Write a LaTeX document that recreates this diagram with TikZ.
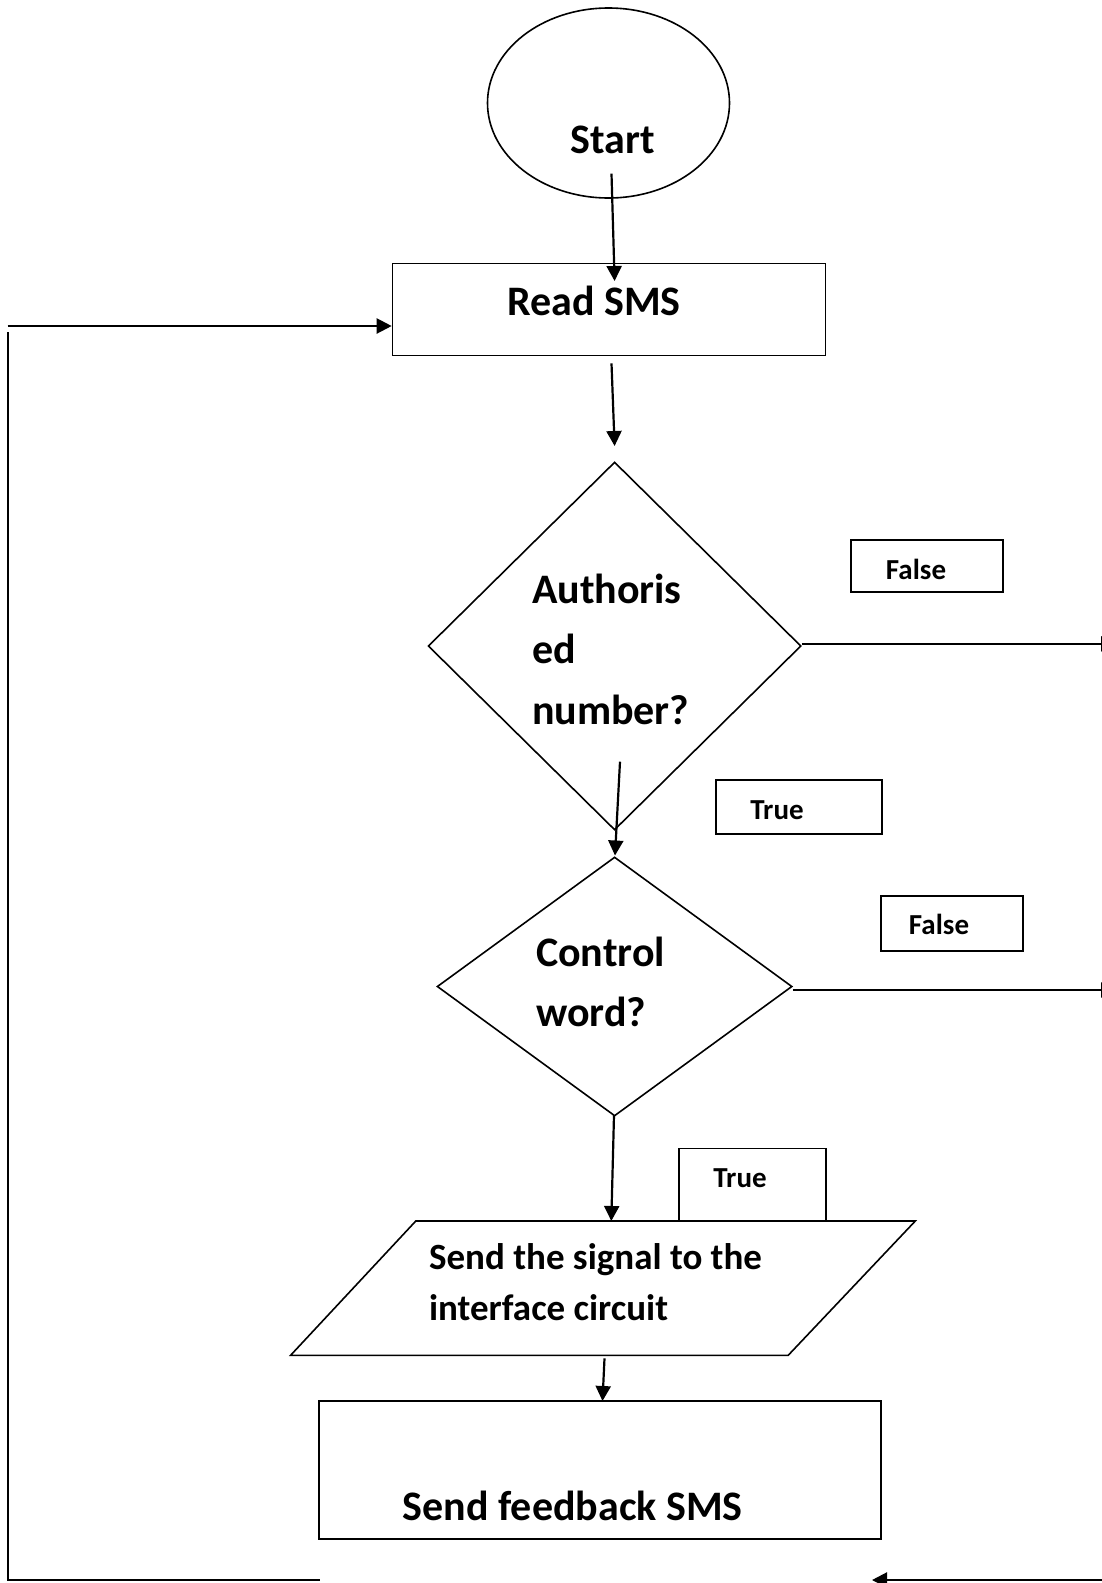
\documentclass[tikz,border=0pt]{standalone}
\usepackage{fontspec}
\setmainfont{Carlito}
\usetikzlibrary{shapes.geometric,arrows.meta}
\begin{document}
\begin{tikzpicture}[x=1pt,y=-1pt,
  outline/.style={draw,line width=1.6pt,inner sep=0pt},
  lbl/.style={outline,rectangle,line width=1.6pt},
  conn/.style={line width=2.2pt,-{Triangle[length=15pt,width=15pt]}},
  loopline/.style={line width=2pt},
  bigtxt/.style={font=\bfseries\fontsize{42}{50}\selectfont,inner sep=0pt},
  midtxt/.style={font=\bfseries\fontsize{37}{44}\selectfont,inner sep=0pt},
  smalltxt/.style={font=\bfseries\fontsize{29}{34}\selectfont,inner sep=0pt}]
\useasboundingbox[fill=white] (0,0) rectangle (1102,1583);

% shapes
\node[outline,ellipse,minimum width=242pt,minimum height=190pt] (start) at (608.5,103) {};
\node[outline,rectangle,minimum width=433pt,minimum height=92pt] (read) at (609,309.3) {};
\node[outline,diamond,minimum width=373pt,minimum height=368pt] (auth) at (614.6,646) {};
\node[outline,diamond,minimum width=355pt,minimum height=259pt] (ctrl) at (614.6,986.5) {};
\node[outline,rectangle,minimum width=562pt,minimum height=138pt] (fb) at (600,1470) {};
\draw[line width=1.6pt] (415.8,1221) coordinate (pTL) -- (915.3,1221) coordinate (pTR)
  -- (788.2,1355.3) coordinate (pBR) -- (290.6,1355.3) coordinate (pBL) -- cycle;
\node[inner sep=0pt] (sig) at (603,1288) {};

% label boxes
\node[lbl,minimum width=152pt,minimum height=52pt] (f1) at (927,566) {};
\node[lbl,minimum width=166pt,minimum height=54pt] (t1) at (798.7,807.2) {};
\node[lbl,minimum width=142pt,minimum height=55pt] (f2) at (952.2,923.4) {};
\draw[line width=1.6pt] (679,1221) -- (679,1148.3) coordinate (t2a) -- (825.7,1148.3) -- (825.7,1221);
\node[inner sep=0pt] (t2) at (752,1184) {};

% texts
\node[bigtxt,anchor=base] (tstart) at (613,153.5) {Start};
\node[bigtxt,anchor=base] (tread) at (594,315) {Read SMS};
\node[bigtxt,anchor=base west] (ta1) at (531.8,603) {Authoris};
\node[bigtxt,anchor=base west] (ta2) at (531.8,663.4) {ed};
\node[bigtxt,anchor=base west] (ta3) at (531.8,724) {number?};
\node[bigtxt,anchor=base west] (tc1) at (535.9,966) {Control};
\node[bigtxt,anchor=base west] (tc2) at (535.9,1026.7) {word?};
\node[midtxt,anchor=base west] (ts1) at (428.9,1269.4) {Send the signal to the};
\node[midtxt,anchor=base west] (ts2) at (428.9,1320.9) {interface circuit};
\node[bigtxt,anchor=base] (tfb) at (572.7,1520) {Send feedback SMS};
\node[smalltxt,anchor=base] (tf1) at (916,579) {False};
\node[smalltxt,anchor=base] (tt1) at (777,819) {True};
\node[smalltxt,anchor=base] (tf2) at (939,934) {False};
\node[smalltxt,anchor=base] (tt2) at (740,1187) {True};

% connector end points
\coordinate (c1a) at (611.5,173.6);
\coordinate (c1b) at (614.6,281);
\coordinate (c2a) at (611.5,363.3);
\coordinate (c2b) at (614.6,446);
\coordinate (c3a) at (620,761.7);
\coordinate (c3b) at (615,855.5);
\coordinate (c4a) at (614,1115);
\coordinate (c4b) at (611.3,1221);
\coordinate (c5a) at (604.5,1358.3);
\coordinate (c5b) at (602.5,1401);
\coordinate (fr1) at (1116,643.9);
\coordinate (fr2) at (1116,990);
\coordinate (br) at (1110,1580);
\coordinate (bl) at (872,1580);
\coordinate (lt) at (7.5,326);
\coordinate (lv) at (7.5,332);
\coordinate (lb) at (7.5,1580);
\coordinate (lr) at (320,1580);

\draw[conn] (c1a) -- (c1b);
\draw[conn] (c2a) -- (c2b);
\draw[conn] (c3a) -- (c3b);
\draw[conn] (c4a) -- (c4b);
\draw[conn] (c5a) -- (c5b);
\draw[conn] (auth.east |- fr1) -- (fr1);
\draw[conn] (ctrl.east |- fr2) -- (fr2);
\draw[conn] (br) -- (bl);
\draw[conn] (lt) -- (read.west |- lt);
\draw[loopline] (lv) -- (lb) -- (lr);
\end{tikzpicture}
\end{document}
